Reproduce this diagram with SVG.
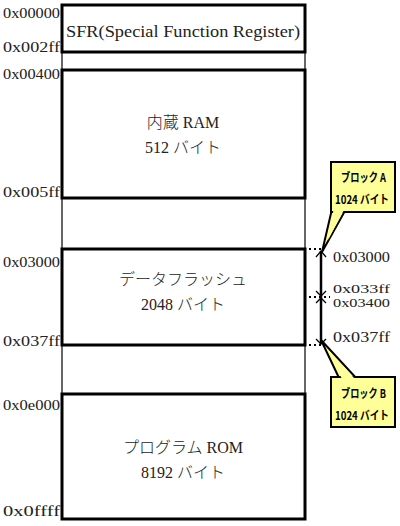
<svg xmlns="http://www.w3.org/2000/svg" width="400" height="526" viewBox="0 0 400 526">
<style>
.box{fill:#fff;stroke:#000;stroke-width:3}
.thin{stroke:#000;stroke-width:1.2;fill:none}
.addr{font-family:"Liberation Serif",serif;font-size:14px;fill:#222}
.addr2{font-family:"Liberation Serif",serif;font-size:13px;fill:#222}
.lbl{font-family:"Liberation Serif","Noto Sans CJK JP",serif;font-size:16px;fill:#222;text-anchor:middle}
.jp{font-family:"Noto Sans CJK JP",sans-serif;font-weight:300}
.ctext{font-family:"Noto Sans CJK JP","Liberation Sans",sans-serif;font-size:12px;font-weight:bold;fill:#000}
.dot{stroke:#000;stroke-width:2;stroke-dasharray:2 3;fill:none}
.arr{stroke:#000;stroke-width:1.3;fill:none}
</style>
<rect width="400" height="526" fill="#fff"/>
<g id="frame">
<line class="thin" x1="62" y1="5" x2="62" y2="520"/>
<line class="thin" x1="305" y1="5" x2="305" y2="520"/>
</g>
<g id="sfr">
<rect class="box" x="62" y="5" width="243" height="47"/>
<text class="lbl" x="183" y="37" textLength="234" lengthAdjust="spacingAndGlyphs">SFR(Special Function Register)</text>
</g>
<g id="ram">
<rect class="box" x="62" y="70" width="243" height="128"/>
<text class="lbl" x="183" y="128"><tspan class="jp">内蔵</tspan> RAM</text>
<text class="lbl" x="183" y="153">512 <tspan class="jp">バイト</tspan></text>
</g>
<g id="flash">
<rect class="box" x="62" y="249" width="243" height="96"/>
<text class="lbl jp" x="183" y="285">データフラッシュ</text>
<text class="lbl" x="183" y="310">2048 <tspan class="jp">バイト</tspan></text>
</g>
<g id="rom">
<rect class="box" x="62" y="394" width="243" height="125"/>
<text class="lbl" x="183" y="453"><tspan class="jp">プログラム</tspan> ROM</text>
<text class="lbl" x="183" y="478">8192 <tspan class="jp">バイト</tspan></text>
</g>
<g id="addresses">
<text class="addr" x="3" y="18" textLength="57" lengthAdjust="spacingAndGlyphs">0x00000</text>
<text class="addr" x="3" y="52" textLength="57" lengthAdjust="spacingAndGlyphs">0x002ff</text>
<text class="addr" x="3" y="79" textLength="57" lengthAdjust="spacingAndGlyphs">0x00400</text>
<text class="addr" x="3" y="197" textLength="57" lengthAdjust="spacingAndGlyphs">0x005ff</text>
<text class="addr" x="3" y="267" textLength="57" lengthAdjust="spacingAndGlyphs">0x03000</text>
<text class="addr" x="3" y="346" textLength="57" lengthAdjust="spacingAndGlyphs">0x037ff</text>
<text class="addr" x="3" y="410" textLength="57" lengthAdjust="spacingAndGlyphs">0x0e000</text>
<text class="addr" x="3" y="516" textLength="57" lengthAdjust="spacingAndGlyphs">0x0ffff</text>
</g>
<g id="connectors">
<line class="dot" x1="309" y1="249" x2="322" y2="249"/>
<line class="dot" x1="309" y1="297" x2="330" y2="297"/>
<line class="dot" x1="309" y1="345" x2="322" y2="345"/>
<line x1="321" y1="251" x2="321" y2="344" stroke="#000" stroke-width="2.5"/>
<path class="arr" d="M316 257 L321 251 L326 257"/>
<path class="arr" d="M316 291 L321 296 L326 291"/>
<path class="arr" d="M316 303 L321 298 L326 303"/>
<path class="arr" d="M316 339 L321 344 L326 339"/>
</g>
<g id="right-addresses">
<text class="addr" x="333" y="262" textLength="57" lengthAdjust="spacingAndGlyphs">0x03000</text>
<text class="addr2" x="333" y="293" textLength="57" lengthAdjust="spacingAndGlyphs">0x033ff</text>
<text class="addr2" x="333" y="307" textLength="57" lengthAdjust="spacingAndGlyphs">0x03400</text>
<text class="addr" x="333" y="342" textLength="57" lengthAdjust="spacingAndGlyphs">0x037ff</text>
</g>
<g id="blockA">
<polygon points="332,209 346,209 322,252" fill="#ffff99" stroke="#000" stroke-width="2"/>
<rect x="331" y="162" width="64" height="50" fill="#ffff99" stroke="#000" stroke-width="2"/>
<polygon points="333.5,210 344,210 328,240" fill="#ffff99"/>
<text class="ctext" x="341" y="182" textLength="45" lengthAdjust="spacingAndGlyphs">ブロック A</text>
<text class="ctext" x="335" y="204" textLength="54" lengthAdjust="spacingAndGlyphs">1024 バイト</text>
</g>
<g id="blockB">
<polygon points="340,380 358,380 321,340" fill="#ffff99" stroke="#000" stroke-width="2"/>
<rect x="331" y="377" width="64" height="50" fill="#ffff99" stroke="#000" stroke-width="2"/>
<polygon points="342,379 355,379 327,349" fill="#ffff99"/>
<text class="ctext" x="341" y="398" textLength="45" lengthAdjust="spacingAndGlyphs">ブロック B</text>
<text class="ctext" x="335" y="420" textLength="54" lengthAdjust="spacingAndGlyphs">1024 バイト</text>
</g>
</svg>
